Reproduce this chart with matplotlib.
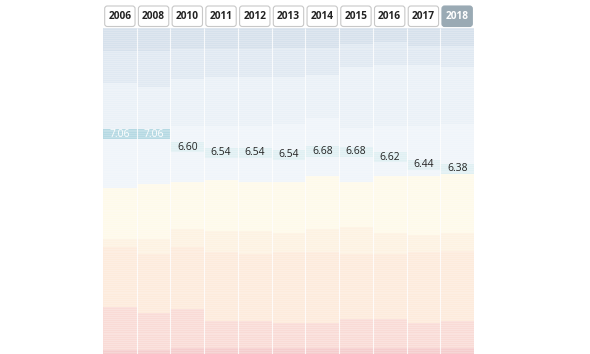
import matplotlib.pyplot as plt
import numpy as np
from matplotlib.patches import FancyBboxPatch

years = ["2006", "2008", "2010", "2011", "2012", "2013", "2014", "2015", "2016", "2017", "2018"]
scores = [7.06, 7.06, 6.60, 6.54, 6.54, 6.54, 6.68, 6.68, 6.62, 6.44, 6.38]
ranks = [54.5, 54.5, 61, 64, 64, 65, 63.3, 63.5, 66.3, 70, 72.2]

# number of countries per score band, top (best) to bottom
band_9_10 = [12, 12, 11, 11, 11, 10, 10, 8, 7, 9, 9]
band_8_9 = [16, 18, 15, 14, 14, 15, 14, 12, 12, 10, 11]
band_7_8 = [25, 23, 24, 25, 25, 24, 22, 31, 31, 31, 29]
band_6_7 = [29, 27, 29, 28, 29, 30, 30, 28, 26, 26, 26]
band_5_6 = [26, 28, 24, 26, 25, 26, 27, 23, 29, 30, 30]
band_4_5 = [4, 8, 9, 11, 12, 10, 12, 14, 11, 9, 9]
band_3_4 = [31, 30, 32, 35, 34, 36, 36, 33, 33, 36, 36]
band_2_3 = [22, 19, 20, 14, 14, 13, 13, 15, 15, 13, 14]
band_0_2 = [2, 2, 3, 3, 3, 3, 3, 3, 3, 3, 3]

bands = [band_9_10, band_8_9, band_7_8, band_6_7, band_5_6,
         band_4_5, band_3_4, band_2_3, band_0_2]
band_colors = ["#d6e1ec", "#e0e9f2", "#eaf1f7", "#f0f5fa", "#fefaea",
               "#fdf2e2", "#fdebdc", "#f9dbd6", "#f5cdcd"]

fig = plt.figure(figsize=(5.9, 3.54), dpi=100)
ax = fig.add_axes([103 / 590, 0, 371 / 590, 1 - 28 / 354])

x = np.arange(len(years))
total = sum(b[0] for b in bands)
bottom = np.zeros(len(years))
for counts, col in zip(bands, band_colors):
    ax.bar(x, counts, bottom=bottom, width=1.0, color=col,
           edgecolor="none", linewidth=0)
    bottom += np.array(counts)

# faint scanline texture
ax.hlines(np.arange(0, total, 1.0), -0.5, len(years) - 0.5,
          color="white", lw=0.4, alpha=0.35)
# thin white separators between the year columns
ax.vlines(x[1:] - 0.5, 0, total, color="white", lw=0.8, alpha=0.8)

# highlighted country cells
cell_h = 5.2
for i, (s, r) in enumerate(zip(scores, ranks)):
    hi = s >= 7
    ax.bar(i, cell_h, bottom=r - cell_h / 2, width=1.0,
           color="#b5d9e3" if hi else "#e0f0f3", edgecolor="none")
    ax.text(i, r, f"{s:.2f}", ha="center", va="center", fontsize=7.4,
            family="Open Sans", color="white" if hi else "#222222")

# year header buttons
px_y = total / 326.0
for i, yr in enumerate(years):
    last = i == len(years) - 1
    box = FancyBboxPatch((i - 0.45, -22 * px_y), 0.9, 20.5 * px_y,
                         boxstyle="round,pad=0,rounding_size=0.08",
                         mutation_aspect=17,
                         facecolor="#9aaab4" if last else "white",
                         edgecolor="#9aaab4" if last else "#c8c8c8",
                         linewidth=0.8, clip_on=False)
    ax.add_patch(box)
    ax.text(i, -11.8 * px_y, yr, ha="center", va="center", fontsize=7.3,
            family="Open Sans", fontweight="bold",
            color="white" if last else "#222222", clip_on=False)

ax.set_xlim(-0.5, len(years) - 0.5)
ax.set_ylim(total, 0)
ax.axis("off")

fig.savefig("out.png", dpi=100)
